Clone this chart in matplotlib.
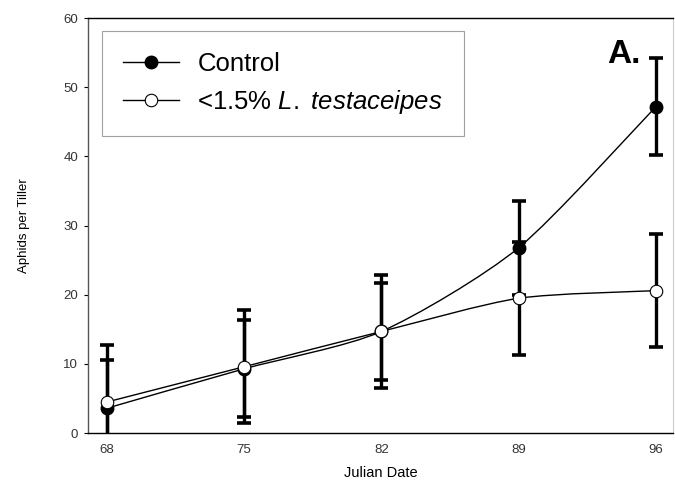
import numpy as np
import matplotlib.pyplot as plt
from matplotlib.path import Path
from matplotlib.patches import PathPatch
from matplotlib.lines import Line2D

plt.rcParams['font.family'] = ['Liberation Sans', 'DejaVu Sans']
plt.rcParams['mathtext.fontset'] = 'custom'
plt.rcParams['mathtext.rm'] = 'Liberation Sans'
plt.rcParams['mathtext.it'] = 'Liberation Sans:italic'

# sampling dates and mean aphid counts (with standard errors)
dates = [68, 75, 82, 89, 96]
control_mean = [3.6, 9.3, 14.7, 26.8, 47.2]
control_err = [7.0, 7.0, 7.0, 6.8, 7.0]
testa_mean = [4.5, 9.6, 14.7, 19.5, 20.6]
testa_err = [8.2, 8.2, 8.1, 8.2, 8.2]

x_ticks = [68, 75, 82, 89, 96]
y_ticks = [0, 10, 20, 30, 40, 50, 60]


def smooth_path(xs, ys):
    # Catmull-Rom style curve turned into cubic bezier segments
    xs = np.asarray(xs, float)
    ys = np.asarray(ys, float)
    pts = np.column_stack([xs, ys])
    n = len(pts)
    verts = [pts[0]]
    codes = [Path.MOVETO]
    for i in range(n - 1):
        p0 = pts[i - 1] if i > 0 else pts[i]
        p1 = pts[i]
        p2 = pts[i + 1]
        p3 = pts[i + 2] if i + 2 < n else pts[i + 1]
        c1 = p1 + (p2 - p0) / 8.0
        c2 = p2 - (p3 - p1) / 8.0
        verts += [c1, c2, p2]
        codes += [Path.CURVE4] * 3
    return Path(verts, codes)


fig = plt.figure(figsize=(6.75, 4.9), dpi=100)
ax = fig.add_axes([0.130, 0.116, 0.867, 0.847])

# error bars for both treatments
ax.errorbar(dates, control_mean, yerr=control_err, fmt='none', ecolor='black',
            elinewidth=2.4, capsize=5, capthick=2.6, zorder=2)
ax.errorbar(dates, testa_mean, yerr=testa_err, fmt='none', ecolor='black',
            elinewidth=2.4, capsize=5, capthick=2.6, zorder=2)

# smoothed connecting lines
for m in (control_mean, testa_mean):
    ax.add_patch(PathPatch(smooth_path(dates, m), fill=False, edgecolor='black',
                           lw=1.0, zorder=3))

ax.plot(dates, control_mean, 'o', color='black', markersize=9, zorder=4)
ax.plot(dates, testa_mean, 'o', markerfacecolor='white', markeredgecolor='black',
        markeredgewidth=0.8, markersize=9, zorder=5)

ax.set_xlim(67.03, 96.87)
ax.set_ylim(0, 60)
ax.set_xticks(x_ticks)
ax.set_yticks(y_ticks)
ax.tick_params(axis='x', length=0, pad=8, labelsize=9.5, labelcolor='#333333')
ax.tick_params(axis='y', length=3, width=0.8, pad=4, labelsize=9.5, labelcolor='#333333')

for side in ('left', 'bottom', 'top'):
    ax.spines[side].set_linewidth(1.0)
ax.spines['left'].set_color('#555555')
ax.spines['right'].set_color('#cccccc')
ax.spines['right'].set_linewidth(0.8)

ax.set_xlabel('Julian Date', fontsize=10.5, labelpad=7)
ax.set_ylabel('Aphids per Tiller', fontsize=9.5, labelpad=24)

ax.text(0.945, 0.95, 'A.', transform=ax.transAxes, fontsize=24,
        fontweight='bold', ha='right', va='top')

handles = [
    Line2D([], [], color='black', lw=1.0, marker='o', markersize=9,
           markerfacecolor='black'),
    Line2D([], [], color='black', lw=1.0, marker='o', markersize=9,
           markerfacecolor='white', markeredgewidth=0.8),
]
labels = ['Control', r'<1.5% $\mathit{L.}$ $\mathit{testaceipes}$']
leg = ax.legend(handles, labels, loc='upper left', bbox_to_anchor=(0.025, 0.968),
                fontsize=18.5, frameon=True, fancybox=False, handlelength=2.2,
                handletextpad=0.7, borderpad=0.8, labelspacing=0.45,
                borderaxespad=0)
leg.get_frame().set_edgecolor('#888888')
leg.get_frame().set_linewidth(0.8)

fig.savefig('out.png', dpi=100)
